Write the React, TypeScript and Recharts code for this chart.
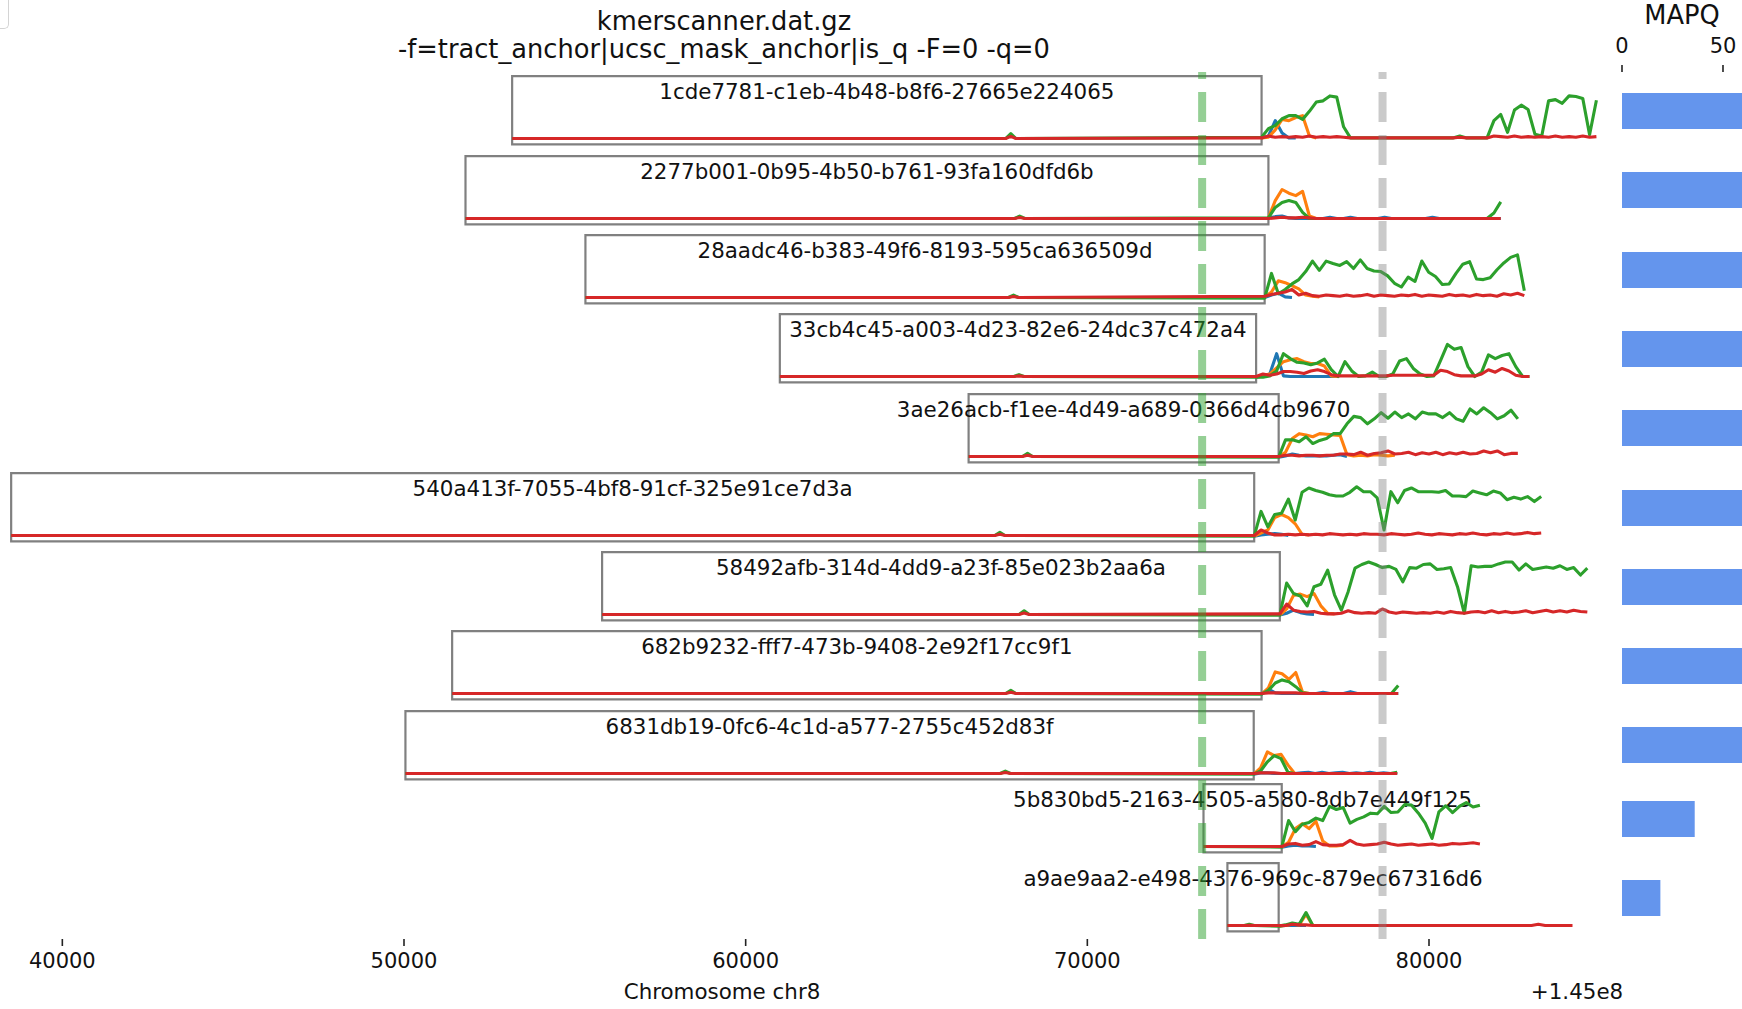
import React from "react";
import { LineChart, Line, XAxis, YAxis, ReferenceArea, ReferenceLine, BarChart, Bar, ComposedChart } from "recharts";

const FONT = "DejaVu Sans, Verdana, sans-serif";

// ---------------- data ----------------
const READ_IDS = [
  "1cde7781-c1eb-4b48-b8f6-27665e224065",
  "2277b001-0b95-4b50-b761-93fa160dfd6b",
  "28aadc46-b383-49f6-8193-595ca636509d",
  "33cb4c45-a003-4d23-82e6-24dc37c472a4",
  "3ae26acb-f1ee-4d49-a689-0366d4cb9670",
  "540a413f-7055-4bf8-91cf-325e91ce7d3a",
  "58492afb-314d-4dd9-a23f-85e023b2aa6a",
  "682b9232-fff7-473b-9408-2e92f17cc9f1",
  "6831db19-0fc6-4c1d-a577-2755c452d83f",
  "5b830bd5-2163-4505-a580-8db7e449f125",
  "a9ae9aa2-e498-4376-969c-879ec67316d6",
];
const READ_STARTS = [53165, 51800, 55310, 61000, 66525, 38502, 55798, 51409, 50042, 73400, 74100];
const BOX_ENDS = [75100, 75300, 75190, 74940, 75600, 74884, 75634, 75100, 74870, 75690, 75600];
const MAPQ = [60, 60, 60, 60, 60, 60, 60, 60, 60, 36, 19];
const BUMP_POS: (number | null)[] = [67760, 68020, 67840, 68000, 68250, 67440, 68150, 67760, 67600, null, 74740];
const BUMP_HEIGHTS = [9, 5, 5, 4, 6, 6, 7, 6, 5, 0, 3];
const TAIL_STEP = 200;

const GREEN_TAILS = [
  [3,17,22,33,38,38,32,45,60,62,70,68,20,2,2,2,2,2,2,2,2,2,2,2,2,2,2,2,2,5,2,2,2,2,30,40,11,47,55,48,8,5,62,64,58,70,69,66,7,63],
  [2,19,27,30,27,11,1,1,1,1,1,1,1,1,1,1,1,1,1,1,1,1,1,1,1,1,1,1,1,1,1,1,1,10,28],
  [0,40,7,14,23,30,43,60,45,60,56,53,59,48,62,48,44,43,36,24,18,34,27,60,42,35,22,23,40,55,59,31,30,33,46,57,66,70,12],
  [0,0,2,10,38,30,24,23,20,23,29,12,1,25,10,1,2,8,1,1,5,26,30,14,5,1,2,27,53,45,48,17,1,8,36,30,35,38,17,1,1],
  [0,28,28,25,33,22,27,30,38,38,54,66,64,54,62,72,63,73,64,70,62,73,70,70,64,72,62,58,78,70,80,72,62,67,76,62],
  [0,40,15,35,37,60,26,71,78,74,71,67,65,65,71,80,72,72,62,10,72,54,74,78,72,72,72,71,74,65,65,64,73,70,67,73,70,59,63,60,64,56,64],
  [0,52,35,31,15,46,50,73,33,8,38,76,82,86,82,77,79,74,54,77,76,82,83,74,75,77,46,3,80,78,79,79,83,86,86,73,83,74,76,78,76,80,74,77,65,76],
  [0,6,18,23,20,12,2,1,1,1,1,1,1,1,1,1,1,1,1,1,14],
  [0,5,20,30,25,3,1,1,1,1,1,1,1,1,1,1,1,1,1,1,1,3],
  [0,43,25,37,40,47,43,66,61,64,39,45,49,55,54,66,56,57,69,68,55,39,14,57,67,56,66,72,65,68],
  [0,2,5,3,22,1],
];
const ORANGE_TAILS = [
  [2,3,15,32,30,35,38,5,2],
  [2,30,48,42,38,45,5,1],
  [2,10,28,25,20,15,5,3,2],
  [0,3,5,15,25,28,30,25,22,22,18,2,1],
  [0,8,30,38,36,33,38,37,36,35,4,2,3,2,4,3,2,3],
  [0,5,10,30,35,30,20,3,2],
  [0,10,32,34,30,35,15,3,2],
  [0,10,36,33,24,35,3,1],
  [0,10,36,30,32,15,1],
  [0,8,30,38,30,42,10,2,2,3],
  [0,1,3,2,19,1],
];
const BLUE_TAILS = [
  [2,5,30,10,2,2],
  [2,4,5,2,1,1,1,1,1,3,1,1,3,1,1,1,1,3,1,1,1,1,1,1,3,1,1,1,1,1,1,1,1,1,1],
  [1,5,8,2,1],
  [0,2,5,38,2,1,1,1,1,1,1,1,1],
  [0,2,5,3,2,2,2,2,3,4,1],
  [0,2,3,4,3,1],
  [0,3,8,4,2,1],
  [0,8,2,1,1,1,1,1,1,3,1,1,1,4,1,1,1,1,1,1,1],
  [0,2,2,1,1,1,1,2,3,1,3,1,2,3,1,2,1,3,1,2,1,1],
  [0,2,3,2,2,1],
  [0,1,1,1,1],
];
const RED_TAILS = [
  [2,5,3,4,3,4,3,5,3,4,3,4,3,2,2,2,2,2,2,2,2,2,2,2,2,2,2,2,2,3,2,2,2,2,5,4,3,5,3,4,3,4,3,5,3,4,3,5,3,4],
  [1,2,3,2,2,3,2,1,1,1,1,1,1,1,1,1,1,1,1,1,1,1,1,1,1,1,1,1,1,1,1,1,1,1,1],
  [3,6,8,10,14,5,8,4,3,5,4,3,5,3,4,6,3,5,4,3,5,4,6,3,5,4,3,6,4,5,3,6,4,5,3,7,5,8,4],
  [1,5,3,5,9,9,8,6,10,12,9,4,2,2,2,2,2,2,2,2,3,3,3,3,3,3,3,11,9,4,2,2,2,5,12,8,14,10,3,1,1],
  [1,3,3,2,3,3,2,3,3,5,5,4,8,3,6,7,10,5,6,8,4,7,5,8,4,7,5,8,5,6,10,7,10,4,6,6],
  [1,10,5,2,2,3,2,3,2,3,2,4,3,2,3,2,4,3,3,2,4,3,2,3,5,3,2,4,3,2,4,3,5,3,2,4,3,5,3,4,6,4,5],
  [2,18,8,6,5,6,3,2,2,3,7,4,3,4,3,10,5,3,5,4,3,4,3,5,3,6,4,3,5,6,4,7,4,6,4,5,7,4,6,8,5,7,5,8,6,5],
  [1,2,2,2,2,2,1,1,1,1,1,1,1,1,1,1,1,1,1,1,1],
  [1,2,2,2,1,1,1,1,1,1,1,1,1,1,1,1,1,1,1,1,1,1],
  [1,5,6,3,4,9,4,3,3,4,11,5,3,4,5,8,5,3,4,5,3,4,5,3,4,6,5,6,7,5],
  [1,1,3,2,2,1,1,1,1,1,1,1,1,1,1,1,1,1,1,1,1,1,1,1,1,1,1,1,1,1,1,1,1,1,1,1,1,1,3,1,1,1,1,1],
];

const X_TICKS = [40000, 50000, 60000, 70000, 80000];
const MAPQ_TICKS = [0, 50];
const GREEN_MARK = 73360;
const GRAY_MARK = 78640;

const TITLE_1 = "kmerscanner.dat.gz";
const TITLE_2 = "-f=tract_anchor|ucsc_mask_anchor|is_q -F=0 -q=0";
const X_LABEL = "Chromosome chr8";
const X_OFFSET_LABEL = "+1.45e8";
const MAPQ_LABEL = "MAPQ";

// ---------------- layout ----------------
const X_DOMAIN: [number, number] = [38000, 86000];
const X_LEFT = -6;
const X_WIDTH = 1640;
const Y_DOMAIN: [number, number] = [-16, 146];
const ROW_H = 100;
const ROW_BASE_OFF = 90.12;
const ROW0_BASE = 139.5;
const ROW_GAP = 79.3;
const ROW_SHIFT = [0, 0, 0, 0, 0, 0, 0, 0, 0, -6, -6];
const MAPQ_LEFT = 1622;
const MAPQ_WIDTH = 121.2;

const C_BLUE = "#1f77b4";
const C_ORANGE = "#ff7f0e";
const C_GREEN = "#2ca02c";
const C_RED = "#d62728";

function tail(r: number, vals: number[]) {
  return vals.map((v, i) => ({ x: BOX_ENDS[r] + i * TAIL_STEP, y: v }));
}
function head(r: number, scale: number) {
  const pts = [{ x: READ_STARTS[r], y: 1 }];
  const bp = BUMP_POS[r];
  if (bp !== null) {
    pts.push({ x: bp - 150, y: 1 }, { x: bp, y: Math.max(1, BUMP_HEIGHTS[r] * scale) }, { x: bp + 150, y: 1 });
  }
  return pts;
}

const BoxLabel = (text: string) => (props: any) => {
  const vb = props.viewBox || {};
  const cx = vb.x + vb.width / 2;
  return (
    <text x={cx} y={vb.y + 23} textAnchor="middle" fontFamily={FONT} fontSize={21.4} fill="#111">
      {text}
    </text>
  );
};

function Row({ r }: { r: number }) {
  const base = ROW0_BASE + r * ROW_GAP + ROW_SHIFT[r];
  const green = [...head(r, 1), ...tail(r, GREEN_TAILS[r])];
  const red = [...head(r, 0.5), ...tail(r, RED_TAILS[r])];
  const orange = tail(r, ORANGE_TAILS[r]);
  const blue = tail(r, BLUE_TAILS[r]);
  const lineProps = { dataKey: "y", dot: false, isAnimationActive: false, strokeWidth: 3.1, type: "linear" as const, strokeLinejoin: "round" as const };
  return (
    <>
      <div style={{ position: "absolute", left: X_LEFT, top: base - ROW_BASE_OFF }}>
        <LineChart width={X_WIDTH} height={ROW_H} margin={{ top: 0, right: 0, bottom: 0, left: 0 }}>
          <XAxis type="number" dataKey="x" domain={X_DOMAIN} hide allowDataOverflow />
          <YAxis type="number" domain={Y_DOMAIN} hide allowDataOverflow />
          <ReferenceArea
            x1={READ_STARTS[r]}
            x2={BOX_ENDS[r]}
            y1={-8.5}
            y2={102}
            fill="#ffffff"
            fillOpacity={0}
            stroke="#808080"
            strokeWidth={2.2}
            ifOverflow="visible"
            label={BoxLabel(READ_IDS[r])}
          />
          <Line {...lineProps} data={blue} stroke={C_BLUE} />
          <Line {...lineProps} data={orange} stroke={C_ORANGE} />
          <Line {...lineProps} data={green} stroke={C_GREEN} />
          <Line {...lineProps} data={red} stroke={C_RED} />
        </LineChart>
      </div>
      <div style={{ position: "absolute", left: MAPQ_LEFT, top: base - 46.5 }}>
        <BarChart layout="vertical" width={MAPQ_WIDTH} height={36} data={[{ name: READ_IDS[r], mapq: MAPQ[r] }]} margin={{ top: 0, right: 0, bottom: 0, left: 0 }} barCategoryGap={0}>
          <XAxis type="number" domain={[0, 60]} hide />
          <YAxis type="category" dataKey="name" hide />
          <Bar dataKey="mapq" fill="#6495ed" isAnimationActive={false} />
        </BarChart>
      </div>
    </>
  );
}

export default function App() {
  const tickRows = X_TICKS.map((t) => ({ x: t, y: 0 }));
  return (
    <div style={{ position: "absolute", left: 0, top: 0, width: 1742, height: 1009, overflow: "hidden", background: "#fff" }}>
      <div style={{ position: "absolute", left: 0, top: 0, width: 8, height: 28, borderRight: "1.5px solid #d4d4d4", borderBottom: "1.5px solid #d4d4d4", borderBottomRightRadius: 5 }} />
      {READ_IDS.map((id, r) => (
        <Row key={id} r={r} />
      ))}
      {/* shared x axis and marker lines */}
      <div style={{ position: "absolute", left: X_LEFT, top: 0, pointerEvents: "none" }}>
        <ComposedChart width={X_WIDTH} height={1009} data={tickRows} margin={{ top: 72, right: 0, bottom: 0, left: 0 }}>
          <XAxis
            type="number"
            dataKey="x"
            domain={X_DOMAIN}
            ticks={X_TICKS}
            height={70}
            tickSize={7}
            tickMargin={7}
            axisLine={false}
            tickLine={{ stroke: "#222", strokeWidth: 1.6 }}
            tick={{ fontSize: 21, fill: "#111", fontFamily: FONT }}
            allowDataOverflow
          />
          <YAxis type="number" domain={[0, 1]} hide allowDataOverflow />
          <Line dataKey="y" stroke="none" strokeOpacity={0} dot={false} isAnimationActive={false} />
          <ReferenceLine x={GREEN_MARK} stroke={C_GREEN} strokeOpacity={0.5} strokeWidth={8} strokeDasharray="30 13" ifOverflow="extendDomain" />
          <ReferenceLine x={GRAY_MARK} stroke="#808080" strokeOpacity={0.42} strokeWidth={8} strokeDasharray="30 13" ifOverflow="extendDomain" />
        </ComposedChart>
      </div>
      {/* MAPQ axis */}
      <div style={{ position: "absolute", left: MAPQ_LEFT - 20, top: 0 }}>
        <BarChart layout="vertical" width={MAPQ_WIDTH + 40} height={80} data={MAPQ.map((m, i) => ({ name: READ_IDS[i], mapq: m }))} margin={{ top: 0, right: 20, bottom: 0, left: 20 }}>
          <XAxis
            type="number"
            orientation="top"
            domain={[0, 60]}
            ticks={MAPQ_TICKS}
            height={72}
            tickSize={7}
            tickMargin={12}
            axisLine={false}
            tickLine={{ stroke: "#222", strokeWidth: 1.6 }}
            tick={{ fontSize: 21, fill: "#111", fontFamily: FONT }}
            allowDataOverflow
          />
          <YAxis type="category" dataKey="name" hide />
          <Bar dataKey="mapq" fill="#6495ed" fillOpacity={0} isAnimationActive={false} />
        </BarChart>
      </div>
      <svg width={1742} height={1009} style={{ position: "absolute", left: 0, top: 0, pointerEvents: "none" }}>
        <text x={724} y={30} textAnchor="middle" fontFamily={FONT} fontSize={25.7} fill="#111">{TITLE_1}</text>
        <text x={724} y={58} textAnchor="middle" fontFamily={FONT} fontSize={25.7} fill="#111">{TITLE_2}</text>
        <text x={1682} y={24} textAnchor="middle" fontFamily={FONT} fontSize={25.7} fill="#111">{MAPQ_LABEL}</text>
        <text x={722} y={999} textAnchor="middle" fontFamily={FONT} fontSize={21.4} fill="#111">{X_LABEL}</text>
        <text x={1577} y={999} textAnchor="middle" fontFamily={FONT} fontSize={21.4} fill="#111">{X_OFFSET_LABEL}</text>
      </svg>
    </div>
  );
}
